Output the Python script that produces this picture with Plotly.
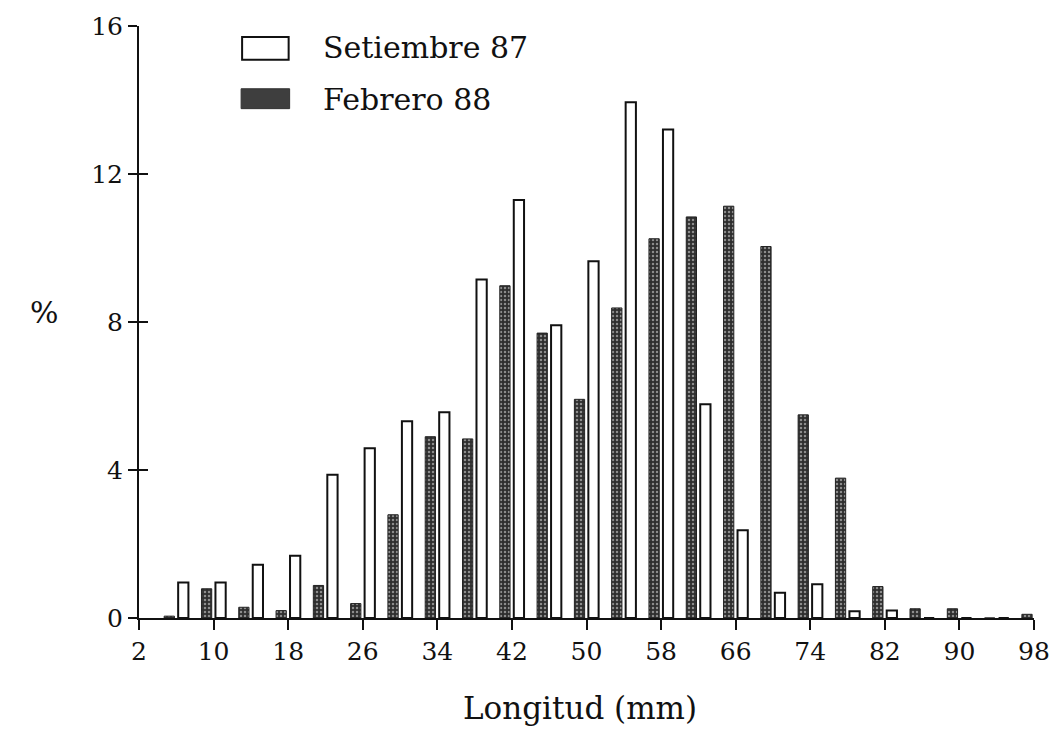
import plotly.graph_objects as go

# Length classes (mm, class centres) and percentage frequency per sampling month
clases = [6, 10, 14, 18, 22, 26, 30, 34, 38, 42, 46, 50,
          54, 58, 62, 66, 70, 74, 78, 82, 86, 90, 94, 98]
setiembre_87 = [0.96, 0.96, 1.44, 1.68, 3.87, 4.59, 5.32, 5.56, 9.15, 11.3, 7.91, 9.64,
                13.94, 13.2, 5.78, 2.37, 0.68, 0.91, 0.18, 0.2, 0.0, 0.0, 0.0, 0.0]
febrero_88 = [0.05, 0.79, 0.29, 0.2, 0.88, 0.39, 2.79, 4.9, 4.84, 8.98, 7.70, 5.91,
              8.38, 10.25, 10.84, 11.13, 10.04, 5.49, 3.78, 0.85, 0.25, 0.25, 0.0, 0.1]

x_ticks = list(range(2, 99, 8))
y_ticks = [0, 4, 8, 12, 16]

FONT = "DejaVu Serif"
INK = "#111111"

fig = go.Figure()

# Febrero 88: stippled dark bars on the left side of each class
fig.add_trace(go.Bar(
    x=clases, y=febrero_88, name="Febrero 88",
    width=1.1, offset=-1.3,
    marker=dict(
        color="#303030",
        line=dict(color="#222222", width=1),
        pattern=dict(shape=".", fillmode="replace", bgcolor="#2e2e2e",
                     fgcolor="#8c8c8c", size=4, solidity=0.3),
    ),
    showlegend=False,
))

# Setiembre 87: open bars on the right side of each class
fig.add_trace(go.Bar(
    x=clases, y=setiembre_87, name="Setiembre 87",
    width=1.1, offset=0.2,
    marker=dict(color="white", line=dict(color=INK, width=2)),
    showlegend=False,
))

# helper trace so the overlay axis (inner half of the y ticks) is drawn
fig.add_trace(go.Scatter(x=[None], y=[None], yaxis="y2", showlegend=False,
                         hoverinfo="skip"))

fig.update_layout(
    width=1062, height=732,
    margin=dict(l=139, r=20, t=24, b=114),
    paper_bgcolor="white", plot_bgcolor="white",
    barmode="overlay",
    font=dict(family=FONT, color=INK),
    xaxis=dict(
        range=[2, 98], tickvals=x_ticks, ticktext=[str(v) for v in x_ticks],
        showgrid=False, zeroline=False,
        showline=True, linecolor=INK, linewidth=2,
        ticks="outside", ticklen=10, tickwidth=2, tickcolor=INK,
        tickfont=dict(family=FONT, size=25, color=INK),
    ),
    yaxis=dict(
        range=[0, 16], tickvals=y_ticks, ticktext=[str(v) for v in y_ticks],
        showgrid=False, zeroline=False,
        showline=True, linecolor=INK, linewidth=2,
        ticks="outside", ticklen=9, tickwidth=2, tickcolor=INK,
        tickfont=dict(family=FONT, size=25, color=INK),
    ),
    yaxis2=dict(
        range=[0, 16], tickvals=y_ticks, overlaying="y", side="left",
        showgrid=False, zeroline=False, showline=False,
        ticks="inside", ticklen=9, tickwidth=2, tickcolor=INK,
        showticklabels=False,
    ),
)

# axis titles
fig.add_annotation(text="Longitud (mm)", xref="paper", yref="paper",
                   x=0.493, y=-0.152, showarrow=False, yanchor="middle",
                   font=dict(family=FONT, size=31, color=INK))
fig.add_annotation(text="%", xref="paper", yref="paper",
                   x=-0.124, y=0.5156, showarrow=False,
                   font=dict(family=FONT, size=30, color=INK))

# legend: swatches and labels
fig.add_shape(type="rect", xref="paper", yref="paper",
              x0=0.1152, x1=0.1672, y0=0.9428, y1=0.9815,
              fillcolor="white", line=dict(color=INK, width=2))
fig.add_shape(type="rect", xref="paper", yref="paper",
              x0=0.1141, x1=0.1683, y0=0.8604, y1=0.894,
              fillcolor="#3e3e3e", line=dict(color="#333333", width=1))
fig.add_annotation(text="Setiembre 87", xref="paper", yref="paper",
                   x=0.2038, y=0.963, xanchor="left", yanchor="middle",
                   showarrow=False, font=dict(family=FONT, size=30, color=INK))
fig.add_annotation(text="Febrero 88", xref="paper", yref="paper",
                   x=0.2038, y=0.8755, xanchor="left", yanchor="middle",
                   showarrow=False, font=dict(family=FONT, size=30, color=INK))

fig.write_html("out.html")
